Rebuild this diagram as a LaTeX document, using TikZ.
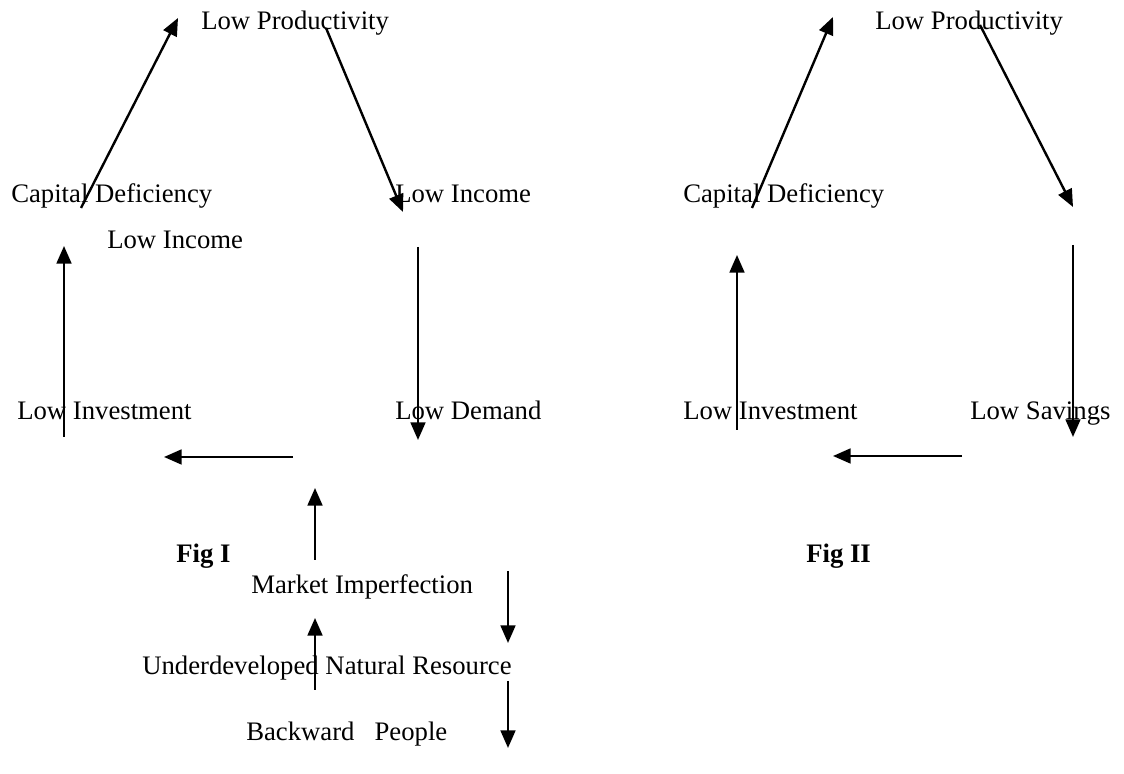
\documentclass[tikz,border=0pt]{standalone}
\usepackage{fontspec}
\setmainfont{Liberation Serif}
\usetikzlibrary{arrows.meta}

\begin{document}
\begin{tikzpicture}[
  lbl/.style={anchor=base west, inner sep=0pt, font=\fontsize{19}{23}\selectfont},
  figlbl/.style={lbl, font=\fontsize{19}{23}\selectfont\bfseries},
  arr/.style={line width=1.7pt, -{Triangle[length=12.5pt, width=10.5pt]}}
]
  \useasboundingbox (0, 0) rectangle (28.1, 19.35);

  % Fig I
  \node[lbl] (prod1) at (5.025, 18.6) {Low Productivity};
  \node[lbl] (capdef1) at (0.275, 14.275) {Capital Deficiency};
  \node[lbl] (inc1) at (9.875, 14.275) {Low Income};
  \node[lbl] (inc1b) at (2.675, 13.125) {Low Income};
  \node[lbl] (inv1) at (0.425, 8.85) {Low Investment};
  \node[lbl] (dem1) at (9.875, 8.85) {Low Demand};
  \node[figlbl] (fig1) at (4.4, 5.275) {Fig I};
  \node[lbl] (market) at (6.275, 4.5) {Market Imperfection};
  \node[lbl] (natres) at (3.55, 2.475) {Underdeveloped Natural Resource};
  \node[lbl] (people) at (6.15, 0.825) {Backward\hspace{0.75em}People};

  \coordinate (a1s) at (2.025, 14.15);  \coordinate (a1e) at (4.45, 18.9);
  \coordinate (a2s) at (8.15, 18.65);   \coordinate (a2e) at (10.075, 14.05);
  \coordinate (a3s) at (1.6, 8.425);    \coordinate (a3e) at (1.6, 13.2);
  \coordinate (a4s) at (10.45, 13.175); \coordinate (a4e) at (10.45, 8.35);
  \coordinate (a5s) at (7.325, 7.925);  \coordinate (a5e) at (4.1, 7.925);
  \coordinate (a6s) at (7.875, 5.35);   \coordinate (a6e) at (7.875, 7.15);
  \coordinate (a7s) at (12.7, 5.075);   \coordinate (a7e) at (12.7, 3.275);
  \coordinate (a8s) at (7.875, 2.1);    \coordinate (a8e) at (7.875, 3.9);
  \coordinate (a9s) at (12.7, 2.325);   \coordinate (a9e) at (12.7, 0.65);

  \draw[arr] (a1s) -- (a1e);
  \draw[arr] (a2s) -- (a2e);
  \draw[arr] (a3s) -- (a3e);
  \draw[arr] (a4s) -- (a4e);
  \draw[arr] (a5s) -- (a5e);
  \draw[arr] (a6s) -- (a6e);
  \draw[arr] (a7s) -- (a7e);
  \draw[arr] (a8s) -- (a8e);
  \draw[arr] (a9s) -- (a9e);

  % Fig II
  \node[lbl] (prod2) at (21.875, 18.6) {Low Productivity};
  \node[lbl] (capdef2) at (17.075, 14.275) {Capital Deficiency};
  \node[lbl] (inv2) at (17.075, 8.85) {Low Investment};
  \node[lbl] (sav2) at (24.25, 8.85) {Low Savings};
  \node[figlbl] (fig2) at (20.15, 5.275) {Fig II};

  \coordinate (b1s) at (18.8, 14.15);   \coordinate (b1e) at (20.825, 18.925);
  \coordinate (b2s) at (24.5, 18.725);  \coordinate (b2e) at (26.825, 14.175);
  \coordinate (b3s) at (18.425, 8.6);   \coordinate (b3e) at (18.425, 12.975);
  \coordinate (b4s) at (26.825, 13.225); \coordinate (b4e) at (26.825, 8.425);
  \coordinate (b5s) at (24.05, 7.95);   \coordinate (b5e) at (20.825, 7.95);

  \draw[arr] (b1s) -- (b1e);
  \draw[arr] (b2s) -- (b2e);
  \draw[arr] (b3s) -- (b3e);
  \draw[arr] (b4s) -- (b4e);
  \draw[arr] (b5s) -- (b5e);
\end{tikzpicture}
\end{document}
